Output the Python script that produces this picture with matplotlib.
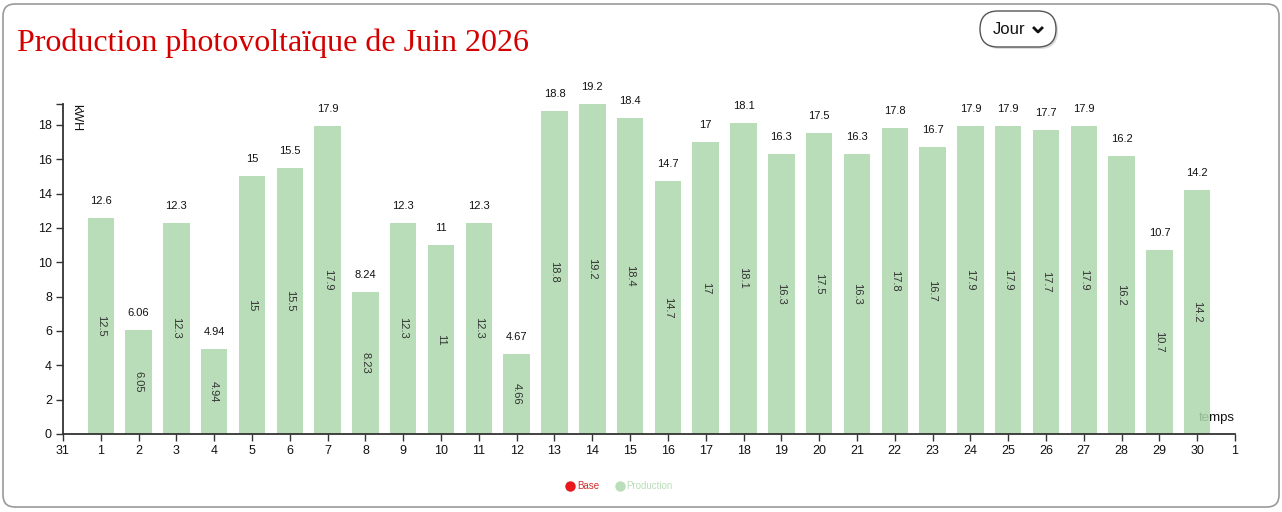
import matplotlib
matplotlib.use("Agg")
import matplotlib.pyplot as plt
from matplotlib.patches import FancyBboxPatch
from matplotlib.lines import Line2D

plt.rcParams['font.family'] = ['Liberation Sans', 'DejaVu Sans']

# ---- data ----
days = list(range(1, 31))
production = [12.54, 6.054, 12.3, 4.94, 15.0, 15.5, 17.9, 8.234, 12.3, 11.0,
              12.3, 4.664, 18.8, 19.2, 18.4, 14.7, 17.0, 18.1, 16.3, 17.5,
              16.3, 17.8, 16.7, 17.9, 17.9, 17.7, 17.9, 16.2, 10.7, 14.2]
base = [0.02, 0.004, 0.01, 0.002, 0.01, 0.01, 0.01, 0.004, 0.01, 0.01,
        0.01, 0.003, 0.01, 0.01, 0.01, 0.01, 0.01, 0.01, 0.01, 0.01,
        0.01, 0.01, 0.01, 0.01, 0.01, 0.01, 0.01, 0.01, 0.01, 0.01]
x_ticks = list(range(0, 32))
x_tick_labels = ['31'] + [str(d) for d in days] + ['1']
y_ticks = [0, 2, 4, 6, 8, 10, 12, 14, 16, 18]

total = [p + b for p, b in zip(production, base)]

W, H = 1282, 512
fig = plt.figure(figsize=(W / 100, H / 100), dpi=100)
inch = fig.dpi_scale_trans


def px(x, y):
    # pixel coords from top-left -> inches from bottom-left
    return (x / 100, (H - y) / 100)


# card frame
frame = FancyBboxPatch(px(3, 507), (W - 6) / 100, 503 / 100,
                       boxstyle="round,pad=0,rounding_size=0.12",
                       transform=inch, facecolor='none',
                       edgecolor='#9a9a9a', linewidth=1.2, zorder=-1)
fig.patches.append(frame)

ax = fig.add_axes([63 / W, (H - 434) / H, (1235 - 63) / W, (434 - 104) / H])
ax.patch.set_alpha(0)

bar_color = (173 / 255, 216 / 255, 173 / 255)
ax.bar(days, base, width=0.7, color='#e41a1c', linewidth=0, zorder=2)
ax.bar(days, production, bottom=base, width=0.7, color=bar_color,
       alpha=0.85, linewidth=0, zorder=3)

for d, p, b, t in zip(days, production, base, total):
    ax.annotate(f'{t:.3g}', (d, t), xytext=(0, 14), textcoords='offset pixels',
                ha='center', va='baseline', fontsize=8, color='#111111', zorder=5)
    ax.text(d, b + p / 2, f'{p:.3g}', rotation=-90, ha='center', va='center',
            fontsize=8, color='#333333', zorder=5)

ax.set_xlim(0, 31)
ax.set_ylim(0, max(total))
ax.set_xticks(x_ticks)
ax.set_xticklabels(x_tick_labels)
ax.set_yticks(y_ticks)
ax.set_yticks([max(total)], minor=True)
ax.tick_params(axis='both', which='major', length=5, width=1, color='#333333',
               labelsize=9, labelcolor='#111111', pad=3)
ax.tick_params(axis='y', which='minor', length=5, width=1, color='#333333')
for s in ['top', 'right']:
    ax.spines[s].set_visible(False)
for s in ['left', 'bottom']:
    ax.spines[s].set_color('#333333')
    ax.spines[s].set_linewidth(1.3)
    ax.spines[s].set_zorder(6)

ax.text(0.35, max(total), 'kWH', rotation=-90, ha='center', va='top',
        fontsize=9, color='#111111')
ax.text(31, 0.6, 'temps', ha='right', va='bottom', fontsize=9.5,
        color='#111111', zorder=1)

# title
fig.text(17 / W, 1 - 51 / H, 'Production photovoltaïque de Juin 2026',
         family=['Liberation Serif', 'DejaVu Serif'], fontsize=23,
         color='#d40000', ha='left', va='baseline')

# "Jour" dropdown
shadow = FancyBboxPatch(px(982, 49), 76 / 100, 36 / 100,
                        boxstyle="round,pad=0,rounding_size=0.18",
                        transform=inch, facecolor='#dcdcdc',
                        edgecolor='none', zorder=1)
btn = FancyBboxPatch(px(980, 47), 76 / 100, 36 / 100,
                     boxstyle="round,pad=0,rounding_size=0.18",
                     transform=inch, facecolor='white',
                     edgecolor='#555555', linewidth=1, zorder=2)
fig.patches.extend([shadow, btn])
fig.text(993 / W, 1 - 29 / H, 'Jour', fontsize=12, color='#111111',
         ha='left', va='center', zorder=3)
fig.lines.append(Line2D([1034 / W, 1038 / W, 1042 / W],
                        [1 - 28 / H, 1 - 32 / H, 1 - 28 / H],
                        transform=fig.transFigure, color='#111111',
                        linewidth=2, zorder=3))

# legend
handles = [Line2D([], [], marker='o', linestyle='none', markersize=7.5,
                  markerfacecolor='#e8181c', markeredgecolor='none'),
           Line2D([], [], marker='o', linestyle='none', markersize=7.5,
                  markerfacecolor='#b9deb9', markeredgecolor='none')]
fig.legend(handles, ['Base', 'Production'], loc='center',
           bbox_to_anchor=(619 / W, 1 - 486 / H), ncol=2, frameon=False,
           fontsize=7, handletextpad=0.2, columnspacing=1.6,
           labelcolor=['#d03030', '#b9deb9'], handlelength=1)

fig.savefig('out.png', dpi=100)
